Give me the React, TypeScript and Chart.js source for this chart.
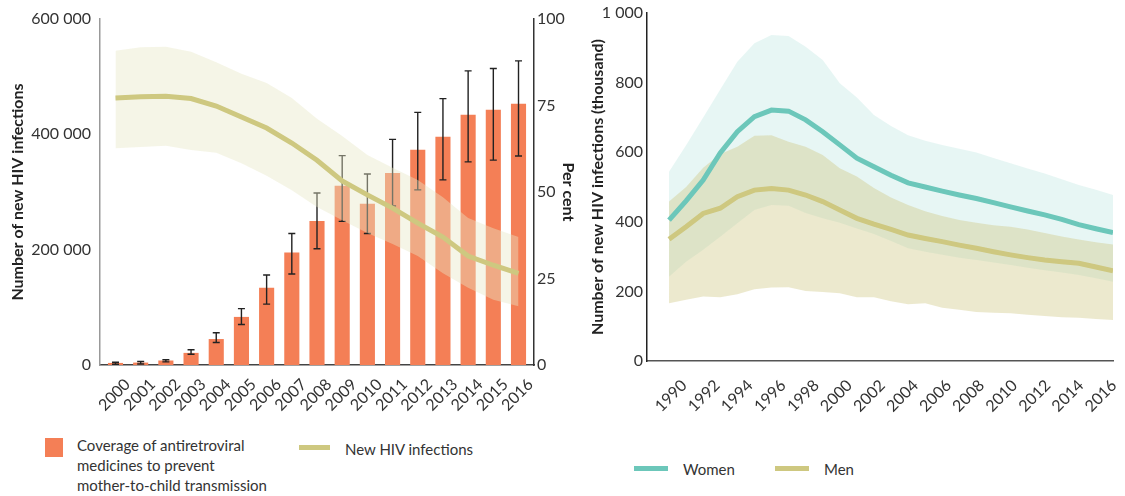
import React, { useEffect, useRef } from "react";
import { Chart, registerables } from "chart.js";

Chart.register(...registerables);

// ---------- Left chart data ----------
const years = [2000, 2001, 2002, 2003, 2004, 2005, 2006, 2007, 2008, 2009, 2010, 2011, 2012, 2013, 2014, 2015, 2016];
const coverage = [0.6, 0.7, 1.3, 3.5, 7.5, 13.9, 22.3, 32.5, 41.6, 51.8, 46.6, 55.5, 62.2, 66, 72.3, 73.8, 75.5];
const coverageLow = [0.2, 0.3, 0.9, 3.1, 6.5, 11.7, 17.6, 26.3, 33.6, 41.5, 38, 46, 50.6, 53.5, 58.7, 59.2, 60.4];
const coverageHigh = [0.8, 1.0, 1.5, 4.4, 9.3, 16.3, 26, 38, 49.7, 60.5, 55.2, 65.2, 73, 77, 85, 85.7, 87.9];
const newInfections = [463000, 465000, 466000, 462000, 449000, 430000, 411000, 385000, 355000, 319000, 295000, 272000, 246000, 222000, 189000, 173000, 159000];
const newInfectionsHigh = [545000, 551000, 552000, 543000, 525000, 505000, 489000, 463000, 427000, 397000, 364000, 342000, 321000, 291000, 255000, 237000, 222000];
const newInfectionsLow = [376000, 378000, 380000, 373000, 368000, 350000, 328000, 303000, 274000, 251000, 229000, 210000, 189000, 159000, 134000, 113000, 102000];
const leftYTicks = [0, 200000, 400000, 600000];
const percentTicks = [0, 25, 50, 75, 100];

// ---------- Right chart data ----------
const sexYears = [1990, 1991, 1992, 1993, 1994, 1995, 1996, 1997, 1998, 1999, 2000, 2001, 2002, 2003, 2004, 2005, 2006, 2007, 2008, 2009, 2010, 2011, 2012, 2013, 2014, 2015, 2016];
const women = [405, 460, 520, 598, 659, 702, 721, 718, 693, 659, 621, 583, 558, 534, 512, 500, 488, 477, 467, 455, 443, 431, 420, 407, 392, 380, 369];
const womenHigh = [544, 620, 700, 780, 860, 913, 937, 934, 903, 865, 798, 757, 707, 675, 649, 633, 621, 610, 599, 583, 568, 553, 539, 522, 506, 492, 477];
const womenLow = [242, 285, 320, 357, 396, 434, 448, 446, 425, 410, 397, 381, 365, 345, 324, 314, 305, 297, 290, 283, 276, 268, 261, 254, 247, 238, 228];
const men = [350, 386, 424, 439, 472, 491, 496, 491, 477, 458, 434, 410, 393, 378, 362, 352, 343, 333, 324, 314, 305, 297, 290, 285, 281, 270, 259];
const menHigh = [458, 500, 555, 595, 616, 647, 649, 630, 616, 592, 554, 530, 497, 470, 448, 430, 417, 405, 397, 390, 386, 378, 368, 358, 349, 341, 335];
const menLow = [166, 176, 185, 183, 192, 206, 211, 212, 201, 198, 195, 183, 183, 172, 163, 166, 153, 147, 141, 139, 137, 133, 129, 126, 124, 121, 118];
const sexYearTicks = [1990, 1992, 1994, 1996, 1998, 2000, 2002, 2004, 2006, 2008, 2010, 2012, 2014, 2016];
const sexYTicks = [0, 200, 400, 600, 800, 1000];

// ---------- Styles ----------
const FONT = "Lato, 'Noto Sans', sans-serif";
const TICK_COLOR = "#333333";
const ORANGE = "#f47f56";
const KHAKI = "#cec880";
const TEAL = "#6cc7ba";

const fmt = (v: number) => String(v).replace(/\B(?=(\d{3})+(?!\d))/g, " ");
const pts = (xs: number[], ys: number[]) => xs.map((x, i) => ({ x, y: ys[i] }));
const fixTicks = (list: number[]) => (axis: any) => {
  axis.ticks = list.map((v) => ({ value: v }));
};
const fixSize = (w: number | null, h: number | null) => (s: any) => {
  if (w !== null) s.width = w;
  if (h !== null) s.height = h;
  s.paddingLeft = 0;
  s.paddingRight = 0;
  s.paddingTop = 0;
  s.paddingBottom = 0;
};

const errorBarPlugin = {
  id: "errorBars",
  afterDatasetDraw(chart: any, args: any) {
    if (args.meta.type !== "bar") return;
    const ctx = chart.ctx;
    const xs = chart.scales.x;
    const ys = chart.scales.y1;
    ctx.save();
    ctx.strokeStyle = "#222222";
    ctx.lineWidth = 1.4;
    years.forEach((yr, i) => {
      const px = xs.getPixelForValue(yr);
      const lo = ys.getPixelForValue(coverageLow[i]);
      const hi = ys.getPixelForValue(coverageHigh[i]);
      ctx.beginPath();
      ctx.moveTo(px, lo);
      ctx.lineTo(px, hi);
      ctx.moveTo(px - 3.5, lo);
      ctx.lineTo(px + 3.5, lo);
      ctx.moveTo(px - 3.5, hi);
      ctx.lineTo(px + 3.5, hi);
      ctx.stroke();
    });
    ctx.restore();
  },
};

const tickFont = { family: FONT, size: 16 };
const titleFont = { family: FONT, size: 16, weight: "bold" as const };

export default function App() {
  const leftRef = useRef<HTMLCanvasElement>(null);
  const rightRef = useRef<HTMLCanvasElement>(null);

  useEffect(() => {
    const left = new Chart(leftRef.current as HTMLCanvasElement, {
      type: "bar",
      data: {
        datasets: [
          {
            type: "line",
            label: "New HIV infections",
            data: pts(years, newInfections),
            yAxisID: "y",
            borderColor: KHAKI,
            borderWidth: 5,
            pointRadius: 0,
            tension: 0,
            fill: false,
            order: 0,
          } as any,
          {
            type: "line",
            label: "upper",
            data: pts(years, newInfectionsHigh),
            yAxisID: "y",
            borderWidth: 0,
            borderColor: "rgba(0,0,0,0)",
            backgroundColor: "rgba(230,230,197,0.42)",
            pointRadius: 0,
            tension: 0,
            fill: "+1",
            order: 1,
          },
          {
            type: "line",
            label: "lower",
            data: pts(years, newInfectionsLow),
            yAxisID: "y",
            borderWidth: 0,
            borderColor: "rgba(0,0,0,0)",
            pointRadius: 0,
            tension: 0,
            fill: false,
            order: 2,
          },
          {
            type: "bar",
            label: "Coverage",
            data: pts(years, coverage),
            yAxisID: "y1",
            backgroundColor: ORANGE,
            barPercentage: 0.6,
            categoryPercentage: 1,
            order: 3,
          },
        ],
      },
      options: {
        responsive: false,
        animation: false,
        events: [],
        layout: { padding: { top: 19, left: 0, right: 0, bottom: 0 } },
        plugins: { legend: { display: false }, tooltip: { enabled: false } },
        scales: {
          x: {
            type: "linear",
            offset: false,
            min: 1999.385,
            max: 2016.615,
            afterBuildTicks: fixTicks(years),
            afterFit: fixSize(null, 55),
            grid: { display: false, drawTicks: false, offset: false },
            border: { display: true, color: "#444444", width: 1.5 },
            ticks: {
              autoSkip: false,
              minRotation: 45,
              maxRotation: 45,
              padding: 10,
              labelOffset: 12,
              color: TICK_COLOR,
              font: tickFont,
              callback: (v: any) => String(v),
            },
          },
          y: {
            position: "left",
            min: 0,
            max: 600000,
            afterBuildTicks: fixTicks(leftYTicks),
            afterFit: fixSize(100, null),
            grid: { display: false, drawTicks: false },
            border: { display: true, color: "#999999", width: 1.5 },
            ticks: { padding: 9, color: TICK_COLOR, font: tickFont, callback: (v: any) => fmt(v) },
            title: {
              display: true,
              text: "Number of new HIV infections",
              color: "#222222",
              font: titleFont,
              padding: { top: 8, bottom: 0 },
            },
          },
          y1: {
            position: "right",
            min: 0,
            max: 100,
            afterBuildTicks: fixTicks(percentTicks),
            afterFit: fixSize(46, null),
            grid: { display: false, drawTicks: false },
            border: { display: true, color: "#333333", width: 1.5 },
            ticks: { padding: 3, color: TICK_COLOR, font: tickFont, callback: (v: any) => String(v) },
            title: {
              display: true,
              text: "Per cent",
              color: "#222222",
              font: titleFont,
              padding: { top: 2, bottom: 0 },
            },
          },
        },
      },
      plugins: [errorBarPlugin],
    });

    const right = new Chart(rightRef.current as HTMLCanvasElement, {
      type: "line",
      data: {
        datasets: [
          {
            label: "Women",
            data: pts(sexYears, women),
            xAxisID: "xd",
            borderColor: TEAL,
            borderWidth: 5,
            pointRadius: 0,
            tension: 0,
            fill: false,
            order: 0,
          },
          {
            label: "Men",
            data: pts(sexYears, men),
            xAxisID: "xd",
            borderColor: KHAKI,
            borderWidth: 5,
            pointRadius: 0,
            tension: 0,
            fill: false,
            order: 1,
          },
          {
            label: "menHigh",
            data: pts(sexYears, menHigh),
            xAxisID: "xd",
            borderWidth: 0,
            borderColor: "rgba(0,0,0,0)",
            backgroundColor: "rgba(205,198,125,0.38)",
            pointRadius: 0,
            tension: 0,
            fill: "+1",
            order: 2,
          },
          {
            label: "menLow",
            data: pts(sexYears, menLow),
            xAxisID: "xd",
            borderWidth: 0,
            borderColor: "rgba(0,0,0,0)",
            pointRadius: 0,
            tension: 0,
            fill: false,
            order: 3,
          },
          {
            label: "womenHigh",
            data: pts(sexYears, womenHigh),
            xAxisID: "xd",
            borderWidth: 0,
            borderColor: "rgba(0,0,0,0)",
            backgroundColor: "rgba(108,199,186,0.16)",
            pointRadius: 0,
            tension: 0,
            fill: "+1",
            order: 4,
          },
          {
            label: "womenLow",
            data: pts(sexYears, womenLow),
            xAxisID: "xd",
            borderWidth: 0,
            borderColor: "rgba(0,0,0,0)",
            pointRadius: 0,
            tension: 0,
            fill: false,
            order: 5,
          },
        ],
      },
      options: {
        responsive: false,
        animation: false,
        events: [],
        layout: { padding: { top: 13, left: 0, right: 12, bottom: 0 } },
        plugins: { legend: { display: false }, tooltip: { enabled: false } },
        scales: {
          xd: {
            type: "linear",
            position: "bottom",
            display: false,
            offset: false,
            min: 1988.71,
            max: 2016,
          },
          x: {
            type: "linear",
            position: "bottom",
            offset: false,
            min: 1987.82,
            max: 2016,
            afterBuildTicks: fixTicks(sexYearTicks),
            afterFit: fixSize(null, 59),
            grid: { display: false, drawTicks: false },
            border: { display: true, color: "#555555", width: 1.5 },
            ticks: {
              autoSkip: false,
              minRotation: 45,
              maxRotation: 45,
              padding: 15,
              labelOffset: 1,
              color: TICK_COLOR,
              font: tickFont,
              callback: (v: any) => String(v),
            },
          },
          y: {
            position: "left",
            min: 0,
            max: 1000,
            afterBuildTicks: fixTicks(sexYTicks),
            afterFit: fixSize(67, null),
            grid: { display: false, drawTicks: false },
            border: { display: true, color: "#222222", width: 1.5 },
            ticks: { padding: 4, color: TICK_COLOR, font: tickFont, callback: (v: any) => fmt(v) },
            title: {
              display: true,
              text: "Number of new HIV infections (thousand)",
              color: "#222222",
              font: titleFont,
              padding: { top: 8, bottom: 0 },
            },
          },
        },
      },
    });

    return () => {
      left.destroy();
      right.destroy();
    };
  }, []);

  const text: React.CSSProperties = {
    position: "absolute",
    fontFamily: FONT,
    fontSize: 15,
    lineHeight: "20px",
    color: "#333333",
    whiteSpace: "nowrap",
  };

  return (
    <div style={{ position: "absolute", left: 0, top: 0, width: 1125, height: 496, background: "#ffffff" }}>
      <canvas ref={leftRef} width={580} height={420} style={{ position: "absolute", left: 0, top: 0 }} />
      <canvas ref={rightRef} width={545} height={420} style={{ position: "absolute", left: 580, top: 0 }} />

      <div style={{ position: "absolute", left: 45, top: 438, width: 18, height: 19, background: ORANGE }} />
      <div style={{ ...text, left: 77, top: 435 }}>
        Coverage of antiretroviral
        <br />
        medicines to prevent
        <br />
        mother-to-child transmission
      </div>
      <div style={{ position: "absolute", left: 299, top: 445, width: 31, height: 5, background: KHAKI }} />
      <div style={{ ...text, left: 345, top: 439 }}>New HIV infections</div>

      <div style={{ position: "absolute", left: 634, top: 466, width: 34, height: 5, background: TEAL }} />
      <div style={{ ...text, left: 683, top: 459 }}>Women</div>
      <div style={{ position: "absolute", left: 775, top: 466, width: 34, height: 5, background: KHAKI }} />
      <div style={{ ...text, left: 824, top: 459 }}>Men</div>
    </div>
  );
}
